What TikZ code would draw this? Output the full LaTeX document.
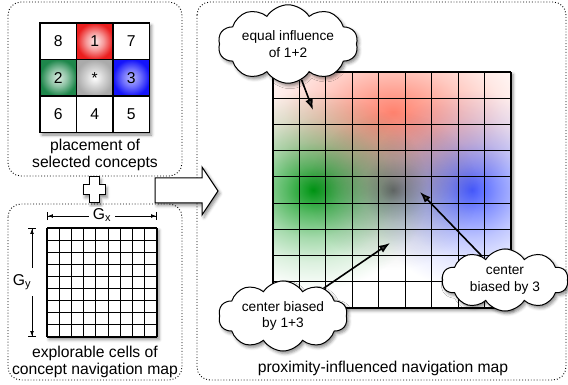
\documentclass[tikz,border=0pt]{standalone}
\usepackage{fontspec}
\setmainfont{Liberation Sans}
\usetikzlibrary{shapes.symbols,shadows,shadows.blur,arrows.meta}

\definecolor{cgreen}{RGB}{30,135,75}
\definecolor{cblue}{RGB}{20,20,250}
\definecolor{cred}{RGB}{235,30,30}
\definecolor{cgray}{RGB}{170,170,170}
\definecolor{bred}{RGB}{255,130,110}
\definecolor{bgreen}{RGB}{0,150,20}
\definecolor{bblue}{RGB}{70,90,255}
\definecolor{bgray}{RGB}{125,125,125}

\pgfdeclareradialshading{cellred}{\pgfpointorigin}{color(0bp)=(cred!8); color(12bp)=(cred!45); color(25bp)=(cred); color(50bp)=(cred)}
\pgfdeclareradialshading{cellgreen}{\pgfpointorigin}{color(0bp)=(cgreen!15); color(12bp)=(cgreen!50); color(25bp)=(cgreen); color(50bp)=(cgreen)}
\pgfdeclareradialshading{cellblue}{\pgfpointorigin}{color(0bp)=(cblue!30); color(12bp)=(cblue!60); color(25bp)=(cblue); color(50bp)=(cblue)}
\pgfdeclareradialshading{cellgray}{\pgfpointorigin}{color(0bp)=(white); color(12bp)=(cgray!50); color(25bp)=(cgray); color(50bp)=(cgray)}

\pgfdeclareradialshading{blobred}{\pgfpointorigin}{color(0bp)=(bred); color(6bp)=(bred!72!white); color(12bp)=(bred!42!white); color(18bp)=(bred!18!white); color(25bp)=(white); color(50bp)=(white)}
\pgfdeclareradialshading{blobgreen}{\pgfpointorigin}{color(0bp)=(bgreen); color(6bp)=(bgreen!65!white); color(12bp)=(bgreen!35!white); color(18bp)=(bgreen!14!white); color(25bp)=(white); color(50bp)=(white)}
\pgfdeclareradialshading{blobblue}{\pgfpointorigin}{color(0bp)=(bblue); color(6bp)=(bblue!65!white); color(12bp)=(bblue!35!white); color(18bp)=(bblue!14!white); color(25bp)=(white); color(50bp)=(white)}
\pgfdeclareradialshading{blobgray}{\pgfpointorigin}{color(0bp)=(bgray); color(4bp)=(bgray!65!white); color(10bp)=(bgray!35!white); color(17bp)=(bgray!14!white); color(25bp)=(white); color(50bp)=(white)}

\newcommand{\bigtxt}{\fontsize{15.7}{17}\selectfont}
\newcommand{\smalltxt}{\fontsize{13.7}{16.5}\selectfont}

\tikzset{
  panel/.style={draw, dotted, line width=0.9pt, rounded corners=13pt},
  cell/.style={draw, line width=1.2pt, minimum width=36.5pt, minimum height=36.5pt, inner sep=0pt, font=\bigtxt},
  gline/.style={line width=1.1pt},
  shad/.style={blur shadow={shadow xshift=2pt, shadow yshift=-2.5pt, shadow blur radius=3pt, shadow opacity=45}},
  label/.style={font=\bigtxt, align=center, inner sep=0pt},
  thought/.style={cloud, cloud puffs=10, cloud puff arc=115, aspect=2.2, draw, fill=white, line width=1pt,
     font=\smalltxt, align=center, inner sep=0pt, shad},
  callout/.style={line width=1.6pt, -{Latex[length=11pt,width=8pt]}},
  dim/.style={line width=0.9pt, {Bar[width=8pt]Latex[length=5pt,width=4pt]}-{Latex[length=5pt,width=4pt]Bar[width=8pt]}},
}

\begin{document}
\begin{tikzpicture}[x=1pt,y=-1pt]
\useasboundingbox (0,0) rectangle (568,385);

% panels
\draw[panel] (8,2) rectangle (182,176);
\draw[panel] (8,204) rectangle (182,380);
\draw[panel] (197,2) rectangle (566,380);

% ---- 3x3 placement grid
\fill[white, shad] (40,23) rectangle (149.5,132.5);
\node[cell] (c8) at (58.25,41.25) {8};
\node[cell, shade, shading=cellred] (c1) at (94.75,41.25) {1};
\node[cell] (c7) at (131.25,41.25) {7};
\node[cell, shade, shading=cellgreen] (c2) at (58.25,77.75) {2};
\node[cell, shade, shading=cellgray] (cs) at (94.75,77.75) {*};
\node[cell, shade, shading=cellblue] (c3) at (131.25,77.75) {3};
\node[cell] (c6) at (58.25,114.25) {6};
\node[cell] (c4) at (94.75,114.25) {4};
\node[cell] (c5) at (131.25,114.25) {5};
\node[label] (t1) at (95,155) {placement of\\selected concepts};

% plus sign
\draw[fill=white, line width=1pt, shad] (89,177) -- (99,177) -- (99,185) -- (105,185) -- (105,195) -- (99,195) -- (99,203) -- (89,203) -- (89,195) -- (83,195) -- (83,185) -- (89,185) -- cycle;

% ---- small 9x9 grid
\fill[white, shad] (47,228) rectangle (157,337);
\foreach \i in {0,...,9} {
  \draw[gline] ({47+\i*110/9},228) -- ({47+\i*110/9},337);
  \draw[gline] (47,{228+\i*109/9}) -- (157,{228+\i*109/9});
}
\coordinate (gxa) at (47,216);
\coordinate (gxb) at (157,216);
\draw[dim] (gxa) -- (gxb);
\node[label, fill=white, inner xsep=4pt, inner ysep=1pt] (gx) at (102,215) {G\textsubscript{x}};
\coordinate (gya) at (32,228);
\coordinate (gyb) at (32,337);
\draw[dim] (gya) -- (gyb);
\node[label, fill=white, inner xsep=3pt, inner ysep=6pt] (gy) at (22,282) {G\textsubscript{y}};
\node[label] (t2) at (95,362) {explorable cells of\\concept navigation map};

% ---- big arrow
\draw[fill=white, line width=1pt, shad] (155,178) -- (202,178) -- (202,167) -- (218,191) -- (202,215) -- (202,203) -- (155,203) -- cycle;

% ---- proximity map
\fill[white, shad] (273,72) rectangle (511,308);
\begin{scope}
  \clip (273,72) rectangle (511,308);
  \begin{scope}[blend mode=multiply]
    \shade[shading=blobred] (393,112) ellipse [x radius=150, y radius=95];
    \shade[shading=blobgreen] (313,190) ellipse [x radius=115, y radius=100];
    \shade[shading=blobblue] (472,190) ellipse [x radius=105, y radius=100];
    \shade[shading=blobgray] (393,190) ellipse [x radius=85, y radius=80];
  \end{scope}
\end{scope}
\foreach \i in {0,...,9} {
  \draw[gline] ({273+\i*238/9},72) -- ({273+\i*238/9},308);
  \draw[gline] (273,{72+\i*236/9}) -- (511,{72+\i*236/9});
}

% clouds
\node[thought, minimum width=140pt, minimum height=64pt] (q1) at (288,44) {equal influence\\of 1+2};
\node[thought, minimum width=126pt, minimum height=62pt] (q2) at (505,280) {center\\biased by 3};
\node[thought, minimum width=129pt, minimum height=58pt] (q3) at (283,316) {center biased\\by 1+3};
\coordinate (p1) at (313,110);
\coordinate (p2) at (420,192);
\coordinate (p3) at (390,243);
\draw[callout] (q1) -- (p1);
\draw[callout] (q2) -- (p2);
\draw[callout] (q3) -- (p3);

\node[label] (t3) at (383,368) {proximity-influenced navigation map};
\end{tikzpicture}
\end{document}
